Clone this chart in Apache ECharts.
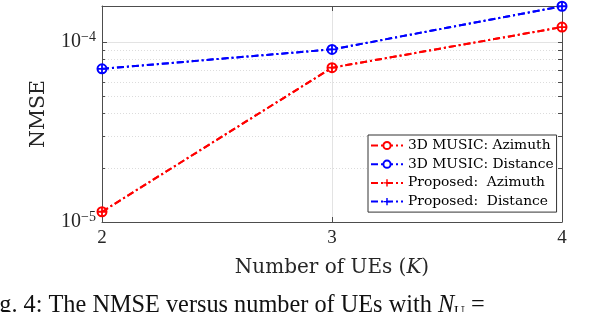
<!DOCTYPE html>
<html>
<head>
<meta charset="utf-8">
<script src="https://cdn.jsdelivr.net/npm/echarts@6/dist/echarts.min.js"></script>
<style>html,body{margin:0;padding:0;background:#fff;}#c{width:590px;height:312px;}</style>
</head>
<body>
<div id="c"></div>
<script>
// ---- data ----
const users = [2, 3, 4];
const musicAzimuth = [1.14e-5, 7.2e-5, 1.21e-4];
const musicDistance = [7.1e-5, 9.1e-5, 1.58e-4];
const proposedAzimuth = [1.14e-5, 7.2e-5, 1.21e-4];
const proposedDistance = [7.1e-5, 9.1e-5, 1.58e-4];
const seriesNames = ['3D MUSIC: Azimuth', '3D MUSIC: Distance', 'Proposed:  Azimuth', 'Proposed:  Distance'];
const yMajorTicks = [1e-5, 1e-4];
const yMinorTicks = [2e-5, 3e-5, 4e-5, 5e-5, 6e-5, 7e-5, 8e-5, 9e-5];
const yMin = 1e-5, yMax = 1.585e-4;
const xTicks = [2, 3, 4];

const L = v => Math.log10(v);
const NUMF = 'Liberation Serif';
const TXTF = 'DejaVu Serif';
const RED = '#ff0000', BLUE = '#0000ff';
const AX = '#4d4d4d';
const TC = '#262626';
const plusPath = 'path://M3.2,0h1.6v3.2h3.2v1.6h-3.2v3.2h-1.6v-3.2h-3.2v-1.6h3.2z';
const dash = [7, 3, 2, 3];

function mk(name, vals, color, symbol) {
  const circle = symbol === 'circle';
  return {
    name, type: 'line',
    data: users.map((u, i) => [u, L(vals[i])]),
    xAxisIndex: 0, yAxisIndex: 0,
    symbol: circle ? 'emptyCircle' : plusPath,
    symbolSize: 9,
    itemStyle: { color: color, borderColor: color, borderWidth: circle ? 2 : 0 },
    lineStyle: { color: color, width: 2, type: dash },
    animation: false, z: circle ? 3 : 4
  };
}

const chart = echarts.init(document.getElementById('c'));
const supFmt = v => '{b|10}{s|\u2212' + Math.round(-v) + '}';

chart.setOption({
  animation: false,
  backgroundColor: '#fff',
  grid: { left: 102, right: 28, top: 6, bottom: 90, show: false },
  xAxis: [{
    type: 'value', min: 2, max: 4, interval: 1, position: 'bottom',
    axisLine: { show: true, lineStyle: { color: AX, width: 1 } },
    axisTick: { show: true, inside: true, length: 5, lineStyle: { color: AX } },
    axisLabel: { show: true, fontFamily: NUMF, fontSize: 19, color: TC, margin: 7, customValues: xTicks },
    splitLine: { show: true, lineStyle: { color: '#e3e3e3', width: 1 } },
    name: '{n|Number of UEs (}{i|K}{n|)}',
    nameLocation: 'middle', nameGap: 36,
    nameTextStyle: { rich: { n: { fontFamily: TXTF, fontSize: 20, color: TC }, i: { fontFamily: TXTF, fontSize: 20, fontStyle: 'italic', color: TC } } }
  }, {
    type: 'value', min: 2, max: 4, interval: 1, position: 'top',
    axisLine: { show: true, onZero: false, lineStyle: { color: AX, width: 1 } },
    axisTick: { show: true, inside: true, length: 5, lineStyle: { color: AX } },
    axisLabel: { show: false }, splitLine: { show: false }
  }],
  yAxis: [{
    type: 'value', min: L(yMin), max: L(yMax), position: 'left',
    axisLine: { show: true, onZero: false, lineStyle: { color: AX, width: 1 } },
    axisTick: { show: true, inside: true, length: 5, lineStyle: { color: AX }, customValues: yMajorTicks.map(L) },
    axisLabel: {
      show: true, customValues: yMajorTicks.map(L), margin: 6,
      formatter: supFmt,
      rich: { b: { fontFamily: NUMF, fontSize: 20, color: TC }, s: { fontFamily: NUMF, fontSize: 14, color: TC, padding: [0, 0, 10, 0] } }
    },
    splitLine: { show: true, lineStyle: { color: '#e3e3e3', width: 1 } },
    name: 'NMSE', nameLocation: 'middle', nameGap: 53, nameRotate: 90,
    nameTextStyle: { fontFamily: TXTF, fontSize: 20.5, color: TC }
  }, {
    type: 'value', min: L(yMin), max: L(yMax), position: 'left',
    axisLine: { show: false },
    axisTick: { show: true, inside: true, length: 3, lineStyle: { color: AX }, customValues: yMinorTicks.map(L) },
    axisLabel: { show: false },
    splitLine: { show: true, lineStyle: { color: '#dcdcdc', width: 1, type: [1, 2] } }
  }, {
    type: 'value', min: L(yMin), max: L(yMax), position: 'right',
    axisLine: { show: true, onZero: false, lineStyle: { color: AX, width: 1 } },
    axisTick: { show: true, inside: true, length: 4, lineStyle: { color: AX }, customValues: yMajorTicks.concat(yMinorTicks).map(L) },
    axisLabel: { show: false }, splitLine: { show: false }
  }],
  legend: {
    orient: 'vertical', left: 368, top: 135,
    data: seriesNames,
    itemWidth: 32, itemHeight: 9, itemGap: 3.7,
    padding: [3, 3, 3, 2],
    backgroundColor: '#fff', borderColor: '#333', borderWidth: 1, borderRadius: 0,
    textStyle: { fontFamily: TXTF, fontSize: 13.8, color: '#000', lineHeight: 15 }
  },
  series: [
    mk(seriesNames[0], musicAzimuth, RED, 'circle'),
    mk(seriesNames[1], musicDistance, BLUE, 'circle'),
    mk(seriesNames[2], proposedAzimuth, RED, 'plus'),
    mk(seriesNames[3], proposedDistance, BLUE, 'plus')
  ],
  graphic: [{
    type: 'text', left: -21, top: 294, silent: true,
    style: {
      text: '{t|Fig. 4: The NMSE versus number of UEs with }{i|N}{sub|U}{t| = }',
      rich: {
        t: { fontFamily: NUMF, fontSize: 24.3, fill: '#111' },
        i: { fontFamily: NUMF, fontSize: 24.3, fontStyle: 'italic', fill: '#111' },
        sub: { fontFamily: NUMF, fontSize: 15, fill: '#111', padding: [12, 0, 0, 0] }
      }
    }
  }]
});
</script>
</body>
</html>
